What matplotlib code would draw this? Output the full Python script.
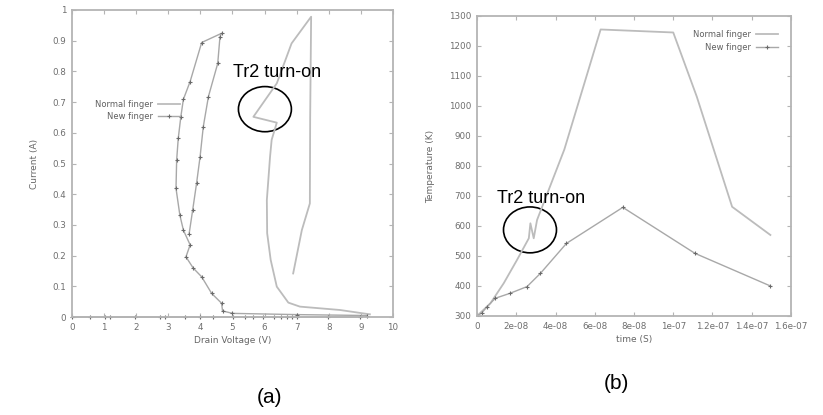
import numpy as np
import matplotlib
matplotlib.use("Agg")
import matplotlib.pyplot as plt
from matplotlib.patches import Ellipse

# ==========================
# Datos (a): corriente vs tension de drenador
# ==========================
normal_v = [6.89, 7.16, 7.41, 7.42, 7.45, 6.84, 6.38, 5.65, 6.38, 6.22, 6.17, 6.07,
            6.08, 6.19, 6.38, 6.74, 7.10, 8.35, 9.07, 9.28]
normal_i = [0.142, 0.283, 0.37, 0.65, 0.978, 0.891, 0.761, 0.652, 0.633, 0.577, 0.522, 0.381,
            0.273, 0.186, 0.099, 0.047, 0.034, 0.023, 0.012, 0.009]

new_v = [0.0, 0.56, 1.03, 1.18, 1.96, 2.74, 2.90, 3.52, 3.99, 4.40, 5.02, 5.39, 5.65, 5.96,
         6.30, 6.50, 6.70, 6.85, 7.00, 7.98, 8.97, 9.20, 7.00, 5.00, 4.69, 4.66, 4.35, 4.04,
         3.78, 3.55, 3.68, 3.47, 3.36, 3.24, 3.26, 3.31, 3.39, 3.47, 3.68, 4.04, 4.66, 4.61,
         4.54, 4.25, 4.09, 3.99, 3.88, 3.76, 3.65]
new_i = [0.0, 0.0, 0.0, 0.0, 0.0, 0.0, 0.0, 0.0, 0.0, 0.0, 0.0, 0.0, 0.0, 0.0,
         0.0, 0.0, 0.0, 0.0, 0.0, 0.0, 0.0, 0.005, 0.008, 0.012, 0.020, 0.045, 0.077, 0.131,
         0.159, 0.196, 0.235, 0.283, 0.332, 0.419, 0.511, 0.582, 0.652, 0.709, 0.767, 0.894, 0.924, 0.913,
         0.826, 0.718, 0.620, 0.522, 0.435, 0.349, 0.272]

# ==========================
# Datos (b): temperatura vs tiempo
# ==========================
normal_t = [0, 0.68e-8, 1.36e-8, 2.04e-8, 2.64e-8, 2.72e-8, 2.89e-8, 3.06e-8, 4.45e-8,
            6.3e-8, 1.0e-7, 1.12e-7, 1.3e-7, 1.495e-7]
normal_temp = [300, 342, 409, 487, 559, 609, 559, 620, 855,
               1255, 1245, 1031, 664, 570]

new_t = [0, 0.24e-8, 0.51e-8, 0.93e-8, 1.7e-8, 2.55e-8, 3.23e-8, 4.56e-8, 7.43e-8, 1.11e-7, 1.495e-7]
new_temp = [300, 310, 331, 359, 376, 398, 442, 542, 662, 509, 400]

a_xticks = list(range(0, 11))
a_yticks = [0, 0.1, 0.2, 0.3, 0.4, 0.5, 0.6, 0.7, 0.8, 0.9, 1]
a_yticklabels = ["0", "0.1", "0.2", "0.3", "0.4", "0.5", "0.6", "0.7", "0.8", "0.9", "1"]
b_xticks = [0, 2e-8, 4e-8, 6e-8, 8e-8, 1e-7, 1.2e-7, 1.4e-7, 1.6e-7]
b_xticklabels = ["0", "2e-08", "4e-08", "6e-08", "8e-08", "1e-07", "1.2e-07", "1.4e-07", "1.6e-07"]
b_yticks = list(range(300, 1301, 100))

gris_eje = "#b4b4b4"
gris_txt = "#6e6e6e"
gris_normal = "#bcbcbc"
gris_new = "#a8a8a8"


def estilo_ejes(ax):
    for s in ax.spines.values():
        s.set_color(gris_eje)
        s.set_linewidth(1.3)
    ax.tick_params(direction="in", length=3, width=0.8, color=gris_eje,
                   labelsize=6.3, labelcolor=gris_txt, top=True, right=True, pad=4)


fig = plt.figure(figsize=(8.23, 4.15), dpi=100)

# ---------- (a) ----------
ax1 = fig.add_axes([0.0875, 0.236, 0.39, 0.740])
ax1.plot(normal_v, normal_i, color=gris_normal, linewidth=1.3, label="Normal finger")
ax1.plot(new_v, new_i, color=gris_new, linewidth=1.0, marker="+", markersize=3.5,
         markeredgecolor="#6a6a6a", markeredgewidth=0.8, label="New finger", clip_on=False)
ax1.set_xlim(0, 10)
ax1.set_ylim(0, 1)
ax1.set_xticks(a_xticks)
ax1.set_yticks(a_yticks)
ax1.set_yticklabels(a_yticklabels)
estilo_ejes(ax1)
ax1.set_xlabel("Drain Voltage (V)", fontsize=6.5, color="#666666", labelpad=3)
ax1.set_ylabel("Current (A)", fontsize=6.5, color="#666666", labelpad=10)
ax1.legend(loc="upper right", bbox_to_anchor=(0.336, 0.708), frameon=False, fontsize=6,
           markerfirst=False, handlelength=2.6, handletextpad=0.6, borderpad=0,
           borderaxespad=0, labelspacing=0.45, numpoints=1, labelcolor="#606060")
ax1.add_patch(Ellipse((6.01, 0.677), 1.65, 0.147, fill=False, edgecolor="black", linewidth=1.2))
ax1.text(5.02, 0.795, "Tr2 turn-on", fontsize=13, family="Liberation Sans", va="center", ha="left")

# ---------- (b) ----------
ax2 = fig.add_axes([0.5796, 0.2386, 0.3815, 0.7229])
ax2.plot(normal_t, normal_temp, color=gris_normal, linewidth=1.3, label="Normal finger")
ax2.plot(new_t, new_temp, color=gris_new, linewidth=1.0, marker="+", markersize=3.5,
         markeredgecolor="#6a6a6a", markeredgewidth=0.8, label="New finger")
ax2.set_xlim(0, 1.6e-7)
ax2.set_ylim(300, 1300)
ax2.set_xticks(b_xticks)
ax2.set_xticklabels(b_xticklabels)
ax2.set_yticks(b_yticks)
estilo_ejes(ax2)
ax2.set_xlabel("time (S)", fontsize=6.5, color="#666666", labelpad=3)
ax2.set_ylabel("Temperature (K)", fontsize=6.5, color="#666666", labelpad=10)
ax2.legend(loc="upper right", bbox_to_anchor=(0.959, 0.952), frameon=False, fontsize=6,
           markerfirst=False, handlelength=2.6, handletextpad=0.6, borderpad=0,
           borderaxespad=0, labelspacing=0.45, numpoints=1, labelcolor="#606060")
ax2.add_patch(Ellipse((2.7e-8, 587), 2.7e-8, 153, fill=False, edgecolor="black", linewidth=1.2))
ax2.text(1.02e-8, 693, "Tr2 turn-on", fontsize=13, family="Liberation Sans", va="center", ha="left")

# Etiquetas de subfigura
fig.text(270 / 823, 1 - 397 / 415, "(a)", fontsize=15, family="Liberation Sans", ha="center", va="center")
fig.text(616 / 823, 1 - 383 / 415, "(b)", fontsize=15, family="Liberation Sans", ha="center", va="center")

fig.savefig("out.png", dpi=100)
